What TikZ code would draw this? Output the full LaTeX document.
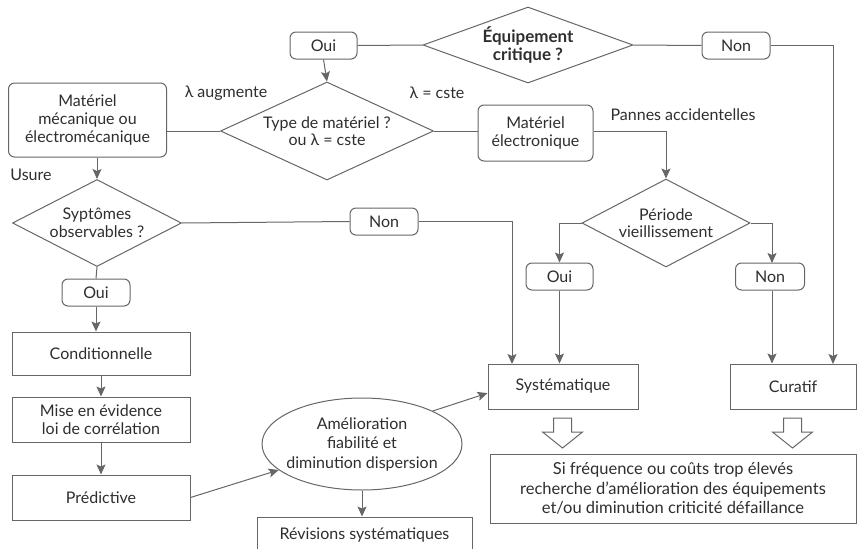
\documentclass[tikz,border=0pt]{standalone}
\usepackage{fontspec}
\setmainfont{Lato}
\usetikzlibrary{shapes.geometric,arrows.meta}

\newlength{\du}
\setlength{\du}{1pt}
\definecolor{dialinecolor}{rgb}{0.400000, 0.400000, 0.400000}
\definecolor{diatextcolor}{rgb}{0.180000, 0.180000, 0.180000}

\tikzset{
  every node/.style={text=diatextcolor, align=center, inner sep=0pt,
    font=\fontsize{16}{17.5}\selectfont},
  roundbox/.style={draw=dialinecolor, line width=1\du, rounded corners=6\du},
  sqbox/.style={draw=dialinecolor, line width=1\du},
  choice/.style={draw=dialinecolor, line width=1\du, shape=diamond, shape aspect=#1, inner sep=-10pt},
  bubble/.style={draw=dialinecolor, line width=1\du, shape=ellipse, inner sep=-8pt,
    font=\fontsize{16}{19.5}\selectfont},
  link/.style={draw=dialinecolor, line width=1\du},
  flow/.style={link, -{Stealth[length=10pt, width=9pt, inset=2pt]}},
  hollow/.style={draw=dialinecolor, line width=1\du, fill=white, line join=miter},
}

\begin{document}
\begin{tikzpicture}
\pgftransformxscale{1.000000}
\pgftransformyscale{-1.000000}
\useasboundingbox (0\du,0\du) rectangle (857\du,549\du);

% questions
\node[choice=2.76, minimum width=210\du, minimum height=76\du, font=\fontsize{17}{18}\selectfont\bfseries] (equip) at (528\du,45\du) {Équipement\\critique ?};
\node[choice=2.17, minimum width=213\du, minimum height=98\du] (type) at (327\du,131\du) {Type de matériel ?\\ou λ = cste};
\node[choice=1.94, minimum width=169\du, minimum height=87\du] (syp) at (97\du,223\du) {Syptômes\\observables ?};
\node[choice=1.9, minimum width=168\du, minimum height=88\du] (periode) at (666\du,223\du) {Période\\vieillissement};

% answers
\node[roundbox, minimum width=67\du, minimum height=27\du] (ouiTop) at (323.5\du,45.5\du) {Oui};
\node[roundbox, minimum width=68\du, minimum height=27\du] (nonTop) at (736\du,45.5\du) {Non};
\node[roundbox, minimum width=68\du, minimum height=27\du] (nonMid) at (384\du,221.5\du) {Non};
\node[roundbox, minimum width=68\du, minimum height=27\du] (ouiLeft) at (96\du,292.5\du) {Oui};
\node[roundbox, minimum width=67\du, minimum height=27\du] (ouiRight) at (559.5\du,276.5\du) {Oui};
\node[roundbox, minimum width=69\du, minimum height=27\du] (nonRight) at (770\du,276.5\du) {Non};

% materiel
\node[roundbox, minimum width=158\du, minimum height=74\du, font=\fontsize{16}{18}\selectfont] (meca) at (87.5\du,120\du) {Matériel\\mécanique ou\\électromécanique};
\node[roundbox, minimum width=115\du, minimum height=56\du] (elec) at (535.5\du,133\du) {Matériel\\électronique};

% maintenance
\node[sqbox, minimum width=178\du, minimum height=43\du] (cond) at (101\du,353.5\du) {Conditionnelle};
\node[sqbox, minimum width=178\du, minimum height=45\du] (mise) at (101\du,419.5\du) {Mise en évidence\\loi de corrélation};
\node[sqbox, minimum width=178\du, minimum height=45\du] (pred) at (101\du,497.5\du) {Prédictive};
\node[bubble, minimum width=200\du, minimum height=92\du] (amelio) at (362\du,444\du) {Amélioration\\fiabilité et\\diminution dispersion};
\node[sqbox, minimum width=215\du, minimum height=36\du] (revis) at (364.5\du,535\du) {Révisions systématiques};
\node[sqbox, minimum width=150\du, minimum height=45\du] (syst) at (563\du,386.5\du) {Systématique};
\node[sqbox, minimum width=126\du, minimum height=45\du] (cura) at (793\du,386.5\du) {Curatif};
\node[sqbox, minimum width=366\du, minimum height=69\du, font=\fontsize{16.5}{19.5}\selectfont] (bilan) at (673\du,488.5\du) {Si fréquence ou coûts trop élevés\\recherche d'amélioration des équipements\\et/ou diminution criticité défaillance};

% labels
\node (lamAug) at (226\du,93\du) {λ augmente};
\node (lamCst) at (437\du,93\du) {λ = cste};
\node (pannes) at (683\du,115\du) {Pannes accidentelles};
\node (usure) at (31\du,175\du) {Usure};

\coordinate (systIn) at (512\du,364\du);
\coordinate (curaIn) at (833\du,364\du);
\coordinate (nonRIn) at (772\du,263\du);

% connectors
\draw[link] (ouiTop.east) -- (equip.west);
\draw[link] (equip.east) -- (nonTop.west);
\draw[flow] (nonTop.east) -| (curaIn);
\draw[flow] (ouiTop.south) -- (type.north);
\draw[link] (type.west) -- (type.west -| meca.east);
\draw[link] (type.east) -- (type.east -| elec.west);
\draw[flow] (elec.east |- type.east) -| (periode.north);
\draw[flow] (syp.north |- meca.south) -- (syp.north);
\draw[link] (syp.east) -- (nonMid.west);
\draw[flow] (nonMid.east) -| (systIn);
\draw[link] (syp.south) -- (ouiLeft.north);
\draw[flow] (ouiLeft.south) -- (ouiLeft.south |- cond.north);
\draw[flow] (cond.south) -- (mise.north);
\draw[flow] (mise.south) -- (pred.north);
\draw[flow] (pred.east) -- (amelio);
\draw[flow] (amelio.25) -- (syst.185);
\draw[flow] (amelio.south) -- (amelio.south |- revis.north);
\draw[flow] (periode.west) -| (ouiRight.north);
\draw[flow] (periode.east) -| (nonRIn);
\draw[flow] (ouiRight.south) -- (ouiRight.south |- syst.north);
\draw[flow] (nonRight.south -| nonRIn) -- (nonRIn |- cura.north);

% hollow arrows
\foreach \ax in {562.5,792.5}
  \draw[hollow] (\ax\du-9\du,418\du) -- (\ax\du+9\du,418\du) -- (\ax\du+9\du,432\du) -- (\ax\du+20\du,432\du)
    -- (\ax\du,448\du) -- (\ax\du-20\du,432\du) -- (\ax\du-9\du,432\du) -- cycle;
\end{tikzpicture}
\end{document}
